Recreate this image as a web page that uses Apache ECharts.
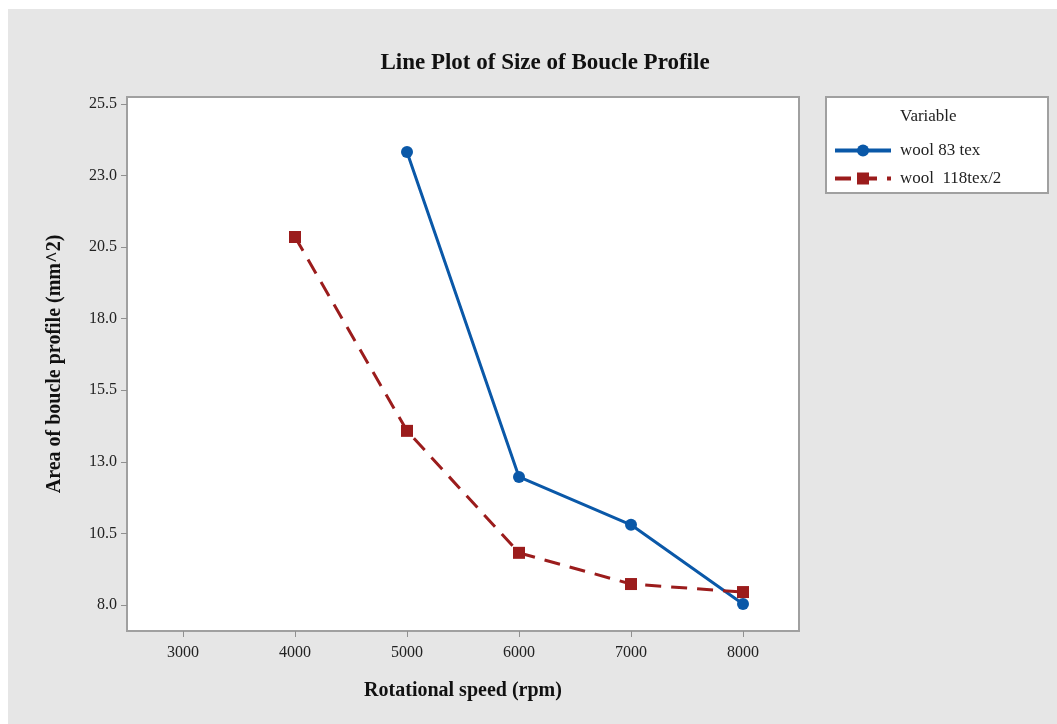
<!DOCTYPE html>
<html>
<head>
<meta charset="utf-8">
<script src="https://cdn.jsdelivr.net/npm/echarts@6/dist/echarts.min.js"></script>
<style>
html,body{margin:0;padding:0;background:#fff;}
#c{width:1057px;height:724px;}
</style>
</head>
<body>
<div id="c"></div>
<script>
const xTicks = [3000, 4000, 5000, 6000, 7000, 8000];
const yTicks = [8.0, 10.5, 13.0, 15.5, 18.0, 20.5, 23.0, 25.5];
const seriesNames = ['wool 83 tex', 'wool  118tex/2'];
const wool83 = [[5000, 23.82], [6000, 12.47], [7000, 10.80], [8000, 8.03]];
const wool118 = [[4000, 20.85], [5000, 14.08], [6000, 9.82], [7000, 8.73], [8000, 8.45]];

const serif = 'Liberation Serif';
const chart = echarts.init(document.getElementById('c'));
chart.setOption({
  backgroundColor: '#e6e6e6',
  animation: false,
  title: {
    text: 'Line Plot of Size of Boucle Profile',
    left: 540, top: 47, textAlign: 'center',
    textStyle: {fontFamily: serif, fontWeight: 'bold', fontSize: 23, color: '#111'}
  },
  graphic: [
    {type: 'rect', shape: {x: 0, y: 0, width: 1057, height: 9}, style: {fill: '#fff'}, z: 100},
    {type: 'rect', shape: {x: 0, y: 0, width: 8, height: 724}, style: {fill: '#fff'}, z: 100},
    {type: 'rect', shape: {x: 826, y: 97, width: 222, height: 96}, style: {fill: '#fff', stroke: '#a0a0a0', lineWidth: 2}, z: 1},
    {type: 'text', left: 900, top: 108, style: {text: 'Variable', fontFamily: serif, fontSize: 17, fill: '#222'}, z: 2}
  ],
  legend: {
    left: 828, top: 137, orient: 'vertical', itemGap: 11,
    itemWidth: 56, itemHeight: 15,
    data: seriesNames,
    lineStyle: {width: 4},
    textStyle: {fontFamily: serif, fontSize: 17, color: '#222', padding: [0, 0, 0, 4]},
    z: 3
  },
  grid: {
    left: 127, right: 258, top: 97, bottom: 93,
    show: true, backgroundColor: '#fff', borderColor: '#a0a0a0', borderWidth: 2
  },
  xAxis: {
    type: 'value', min: 2500, max: 8500,
    name: 'Rotational speed (rpm)', nameLocation: 'middle', nameGap: 50,
    nameTextStyle: {fontFamily: serif, fontWeight: 'bold', fontSize: 20, color: '#111'},
    axisLine: {show: false},
    axisTick: {show: true, customValues: xTicks, length: 6, lineStyle: {color: '#909090'}},
    axisLabel: {customValues: xTicks, fontFamily: serif, fontSize: 16, color: '#222', margin: 14,
      formatter: v => String(v)},
    splitLine: {show: false}
  },
  yAxis: {
    type: 'value', min: 7.09, max: 25.74,
    name: 'Area of boucle profile (mm^2)', nameLocation: 'middle', nameGap: 62,
    nameTextStyle: {fontFamily: serif, fontWeight: 'bold', fontSize: 20, color: '#111'},
    axisLine: {show: false},
    axisTick: {show: true, customValues: yTicks, length: 6, lineStyle: {color: '#909090'}},
    axisLabel: {customValues: yTicks, fontFamily: serif, fontSize: 16, color: '#222', margin: 10,
      formatter: v => v.toFixed(1)},
    splitLine: {show: false}
  },
  series: [
    {
      name: seriesNames[0], type: 'line', data: wool83,
      symbol: 'circle', symbolSize: 12,
      lineStyle: {color: '#0a58a8', width: 3},
      itemStyle: {color: '#0a58a8'}, z: 3
    },
    {
      name: seriesNames[1], type: 'line', data: wool118,
      symbol: 'rect', symbolSize: 12,
      lineStyle: {color: '#9b1c1c', width: 3, type: [16, 10]},
      itemStyle: {color: '#9b1c1c'}, z: 4
    }
  ]
});
</script>
</body>
</html>
